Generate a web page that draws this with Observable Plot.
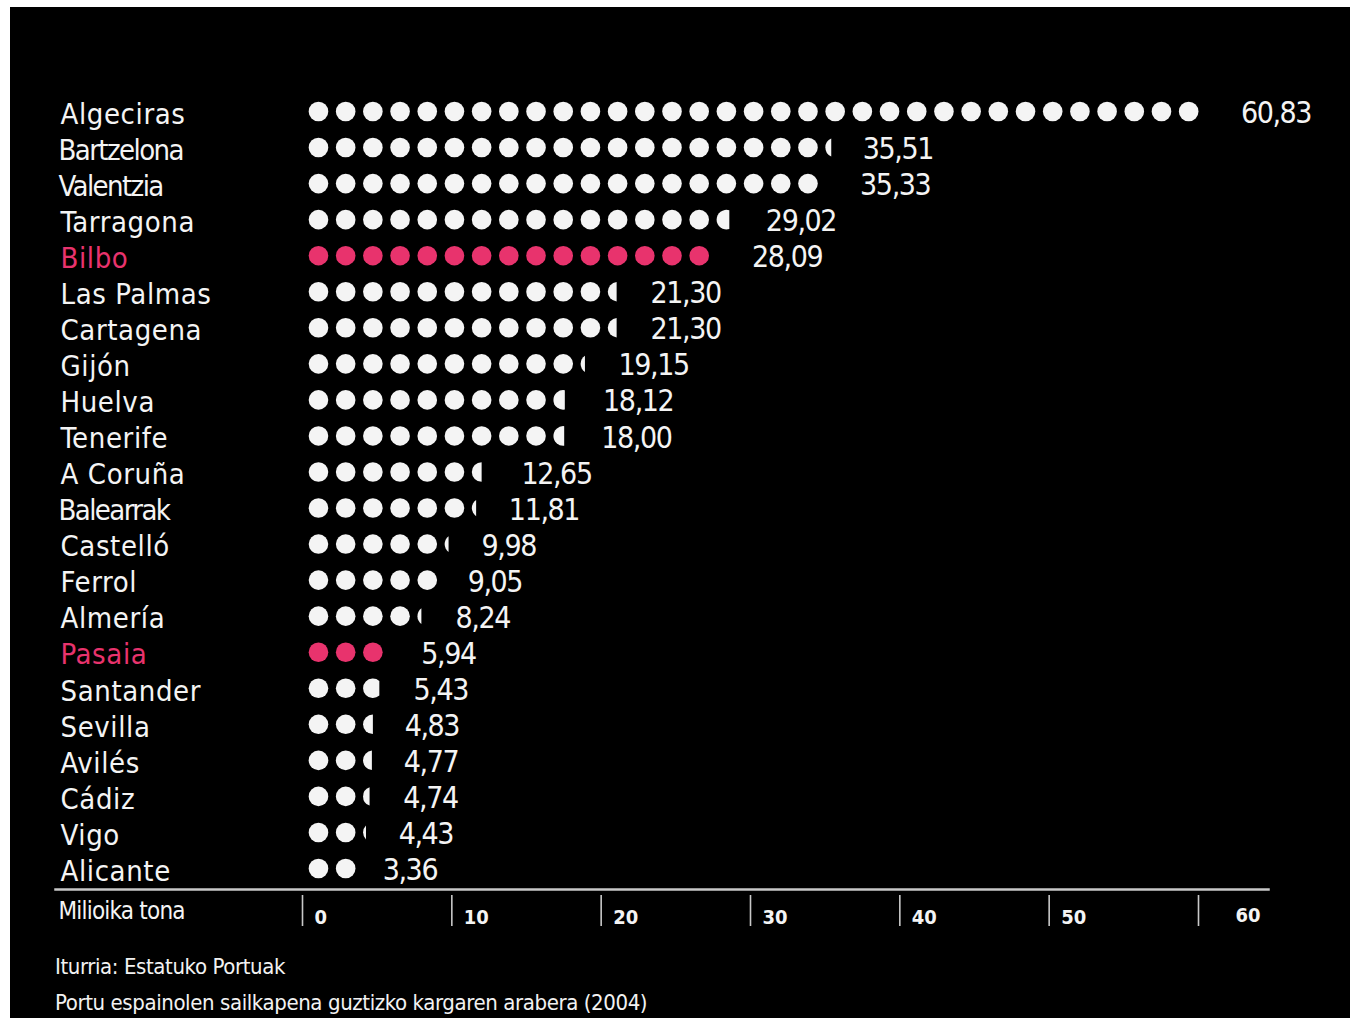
<!DOCTYPE html>
<html>
<head>
<meta charset="utf-8">
<script src="https://cdn.jsdelivr.net/npm/d3@7"></script>
<script src="https://cdn.jsdelivr.net/npm/@observablehq/plot@0.6"></script>
<style>
  html, body { margin: 0; padding: 0; background: #ffffff; }
  #wrap { position: absolute; left: 10px; top: 7px; width: 1340px; height: 1011px; background: #000; overflow: hidden;
          font-family: "Liberation Sans Narrow", "DejaVu Sans Condensed", Roboto, sans-serif; color: #f2f2f2; }
  #chart svg { display: block; }
  .foot { position: absolute; left: 45px; white-space: nowrap; font-size: 22px; letter-spacing: -0.4px; line-height: 1; }
</style>
</head>
<body>
<div id="wrap">
  <div id="chart"></div>
  <div class="foot" id="source" style="top: 949px;"></div>
  <div class="foot" id="note" style="top: 985px;"></div>
</div>
<script>
// ---- data ----
const ports = ["Algeciras","Bartzelona","Valentzia","Tarragona","Bilbo","Las Palmas","Cartagena","Gijón","Huelva","Tenerife","A Coruña","Balearrak","Castelló","Ferrol","Almería","Pasaia","Santander","Sevilla","Avilés","Cádiz","Vigo","Alicante"];
const values = [60.83,35.51,35.33,29.02,28.09,21.30,21.30,19.15,18.12,18.00,12.65,11.81,9.98,9.05,8.24,5.94,5.43,4.83,4.77,4.74,4.43,3.36];
// number of dots drawn per port (fractional part = visible part of the last dot)
const dotCounts = [33,19.3,19,15.65,15,11.45,11.45,10.22,9.58,9.55,6.5,6.22,5.2,5,4.2,3,2.83,2.5,2.45,2.33,2.15,2];
const highlighted = ["Bilbo","Pasaia"];
const xTicks = [0,10,20,30,40,50,60];
const axisTitle = "Milioika tona";
const sourceText = "Iturria: Estatuko Portuak";
const noteText = "Portu espainolen sailkapena guztizko kargaren arabera (2004)";

// ---- styling / layout constants ----
const WHITE = "#f4f4f4", PINK = "#e8336d";
const DOT_START = 1.07, DOT_STEP = 1.821; // in axis units
const tight = new Set(["Bartzelona","Valentzia","Balearrak"]);
const fmt = v => v.toFixed(2).replace(".", ",");
const colorOf = p => highlighted.includes(p) ? PINK : WHITE;
const FONT = "'Liberation Sans Narrow', 'DejaVu Sans Condensed', Roboto, sans-serif";

function partialSymbol(f) {
  return {
    draw(ctx, size) {
      const r = Math.sqrt(size / Math.PI);
      const c = -r + 2 * r * f;
      const h = Math.sqrt(Math.max(0, r * r - c * c));
      const a = Math.atan2(h, c);
      ctx.moveTo(c, -h);
      ctx.arc(0, 0, r, -a, a, true);
      ctx.closePath();
    }
  };
}

const dots = [];
ports.forEach((p, i) => {
  const n = dotCounts[i];
  for (let k = 0; k < Math.ceil(n - 1e-9); k++) {
    const f = Math.min(1, n - k);
    dots.push({port: p, x: DOT_START + k * DOT_STEP, symbol: f >= 0.999 ? d3.symbolCircle : partialSymbol(f), fill: colorOf(p)});
  }
});
const rows = ports.map((p, i) => ({port: p, value: values[i]}));

const chart = Plot.plot({
  width: 1340,
  height: 940,
  marginLeft: 292,
  marginRight: 152,
  marginTop: 0,
  marginBottom: 52,
  style: {background: "#000", color: WHITE, fontFamily: FONT, overflow: "visible"},
  x: {domain: [0, 60]},
  y: {type: "point", domain: ports, range: [104, 861], padding: 0, round: false, axis: null},
  marks: [
    Plot.frame({anchor: "bottom", dy: -6, insetLeft: -247, insetRight: -70, stroke: "#c8c8c8", strokeWidth: 2.5}),
    Plot.axisX({ticks: xTicks, tickSize: 31, stroke: "#c8c8c8", strokeWidth: 1.6, fill: "none", label: null}),
    Plot.text(xTicks.filter(d => d < 60), {x: d => d, text: d => String(d), frameAnchor: "bottom", dx: 12, dy: 28, textAnchor: "start", fill: WHITE, fontSize: 20, fontWeight: "bold"}),
    Plot.text(xTicks.filter(d => d === 60), {x: d => d, text: d => String(d), frameAnchor: "bottom", dx: 37, dy: 26, textAnchor: "start", fill: WHITE, fontSize: 20, fontWeight: "bold"}),
    Plot.text([axisTitle], {frameAnchor: "bottom-left", dx: -244, dy: 23, textAnchor: "start", fill: WHITE, fontSize: 24, text: d => d}),
    Plot.dot(dots, {x: "x", y: "port", r: 9.8, symbol: "symbol", fill: "fill", stroke: null}),
    Plot.text(ports.filter(p => !tight.has(p)), {y: d => d, text: d => d, frameAnchor: "left", dx: -242, dy: 3, textAnchor: "start", fill: colorOf, fontSize: 29}),
    Plot.text(ports.filter(p => tight.has(p)), {y: d => d, text: d => d, frameAnchor: "left", dx: -244, dy: 3, textAnchor: "start", fill: colorOf, fontSize: 29}),
    Plot.text(rows, {x: "value", y: "port", text: d => fmt(d.value), dx: 30, dy: 2, textAnchor: "start", fill: WHITE, fontSize: 30})
  ]
});

// letter-spacing tweaks to imitate the condensed typeface
d3.select(chart).selectAll("text").each(function () {
  const t = this.textContent;
  let ls = null;
  if (tight.has(t)) ls = "-1.6px";
  else if (ports.includes(t)) ls = "0.6px";
  else if (/^\d+,\d\d$/.test(t)) ls = "-1.4px";
  else if (t === axisTitle) ls = "-0.8px";
  if (ls) this.style.letterSpacing = ls;
});

document.getElementById("chart").appendChild(chart);
document.getElementById("source").textContent = sourceText;
document.getElementById("note").textContent = noteText;
</script>
</body>
</html>
